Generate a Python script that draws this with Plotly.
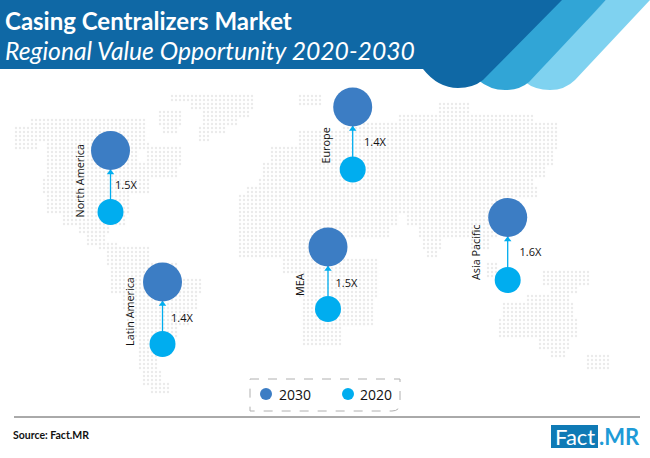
import plotly.graph_objects as go

# regions (position on the 650x458 map)
regions = ['North America', 'Latin America', 'Europe', 'MEA', 'Asia Pacific']
multipliers = ['1.5X', '1.4X', '1.4X', '1.5X', '1.6X']
region_x = [110.5, 162.5, 352.7, 328, 507.7]
y_2030 = [150.5, 282, 107, 247, 217.5]
y_2020 = [212, 344, 169.5, 309, 280]
label_x = [78.5, 129, 324.5, 299, 475]
label_y = [181, 312, 146, 285, 253]
mult_x = [126, 182, 375, 346.5, 530.5]
mult_y = [186, 319, 143, 284, 253]

# dotted world map: land as (y top, y bottom, x left, x right)
land = [
    # greenland and arctic
    (98, 104, 173, 255), (104, 112, 195, 255), (112, 120, 205, 250), (120, 128, 205, 240),
    (128, 136, 200, 225), (136, 142, 200, 210), (115, 125, 160, 182), (125, 136, 165, 180),
    # north america
    (120, 128, 33, 145), (128, 144, 17, 145), (144, 152, 17, 40), (144, 152, 50, 150),
    (150, 165, 50, 140), (148, 165, 150, 182), (165, 180, 50, 180), (180, 195, 47, 150),
    (195, 215, 50, 130), (215, 225, 65, 125), (225, 235, 80, 112), (235, 246, 90, 108),
    (246, 252, 100, 118),
    # south america
    (250, 265, 110, 150), (265, 280, 113, 178), (280, 295, 113, 202), (295, 310, 125, 200),
    (310, 325, 130, 192), (325, 340, 135, 180), (340, 355, 140, 168), (355, 372, 143, 160),
    (372, 385, 144, 162), (385, 396, 152, 170),
    # europe and north asia
    (98, 106, 302, 322), (106, 116, 440, 470), (116, 124, 400, 535), (124, 135, 345, 558),
    (135, 150, 300, 558), (150, 165, 275, 555), (165, 180, 265, 545), (180, 190, 260, 535),
    (190, 197, 250, 540),
    # middle east, south asia, china
    (197, 213, 345, 512), (213, 225, 345, 400), (213, 225, 410, 490), (225, 238, 350, 390),
    (225, 238, 420, 500), (238, 250, 425, 442), (238, 250, 475, 492), (250, 258, 430, 438),
    # africa
    (197, 260, 243, 345), (260, 275, 285, 378), (275, 300, 300, 378), (300, 325, 305, 368),
    (325, 345, 305, 342), (300, 326, 365, 376),
    # indonesia, australia, new zealand
    (265, 278, 490, 500), (272, 285, 545, 590), (285, 296, 555, 578), (296, 306, 530, 570),
    (306, 320, 505, 575), (320, 340, 502, 577), (340, 352, 540, 572), (352, 358, 555, 565),
    (358, 372, 590, 610),
]

DOT_STEP = 4
dots_x = []
dots_y = []
for y0, y1, x0, x1 in land:
    for yy in range(y0 - y0 % DOT_STEP, y1, DOT_STEP):
        for xx in range(x0 - x0 % DOT_STEP, x1, DOT_STEP):
            dots_x.append(xx)
            dots_y.append(yy)

BLUE_2030 = '#3c7dc4'
BLUE_2020 = '#00adef'

fig = go.Figure()

fig.add_trace(go.Scatter(x=dots_x, y=dots_y, mode='markers',
                         marker=dict(size=2.4, color='#ebebeb')))

# arrows from 2020 up to 2030
for i in range(len(regions)):
    fig.add_trace(go.Scatter(x=[region_x[i], region_x[i]], y=[y_2020[i], y_2030[i]], mode='lines',
                             line=dict(color=BLUE_2020, width=1.3)))
fig.add_trace(go.Scatter(x=region_x, y=[v + 22 for v in y_2030], mode='markers',
                         marker=dict(symbol='triangle-up', size=6.5, color=BLUE_2020)))

fig.add_trace(go.Scatter(x=region_x, y=y_2030, mode='markers', name='2030',
                         marker=dict(size=39, color=BLUE_2030)))
fig.add_trace(go.Scatter(x=region_x, y=y_2020, mode='markers', name='2020',
                         marker=dict(size=26, color=BLUE_2020)))

fig.add_trace(go.Scatter(x=mult_x, y=mult_y, mode='text', text=multipliers,
                         textfont=dict(family='Open Sans', size=11, color='#111111')))

# legend keys
fig.add_trace(go.Scatter(x=[266, 348], y=[394, 394], mode='markers',
                         marker=dict(size=12, color=[BLUE_2030, BLUE_2020])))

header_shapes = [
    ('#7fd2f0', 'M606,0 L650,0 L575,80 Q565,90 550,90 Q535,90 525,82 Z'),
    ('#31a5d6', 'M560,0 L606,0 L529,82 Q520,90 505,90 Q490,90 478,80 Z'),
    ('#0f68a5', 'M0,0 L562,0 L483,80 Q473,88 458,88 Q438,88 423,69 L0,69 Z'),
]
for colour, path in header_shapes:
    fig.add_shape(type='path', path=path, fillcolor=colour, line_width=0, layer='above')

# legend box, footer rule, logo
fig.add_shape(type='path', path='M250,379 L400,379 L400,403 Q400,411 392,411 L250,411 Z',
              line=dict(color='#b0b0b0', width=1, dash='dash'))
fig.add_shape(type='line', x0=14, x1=640, y0=417, y1=417, line=dict(color='#555555', width=1))
fig.add_shape(type='rect', x0=551, x1=598, y0=425, y1=448, fillcolor='#0f7ab5', line_width=0)


def put_text(x, y, text, size, color='#111111', family='Open Sans', anchor='left', angle=0):
    fig.add_annotation(x=x, y=y, text=text, showarrow=False, xanchor=anchor, yanchor='middle',
                       textangle=angle, font=dict(family=family, size=size, color=color))


put_text(3, 20, '<b>Casing Centralizers Market</b>', 24, color='white', family='Lato')
put_text(3, 50, '<i>Regional Value Opportunity 2020-2030</i>', 24.7, color='white', family='Lato')

for i, name in enumerate(regions):
    put_text(label_x[i], label_y[i], name, 10.8, anchor='center', angle=-90)

put_text(277, 394, '2030', 14)
put_text(358, 394, '2020', 14)
put_text(11, 435, '<b>Source: Fact.MR</b>', 10.5, family='Lato')
put_text(574.5, 436, 'Fact', 22, color='white', anchor='center', family='Lato')
put_text(619, 436, '<b>.MR</b>', 22, color='#1e9bd7', anchor='center', family='Lato')

fig.update_layout(
    width=650, height=458,
    margin=dict(l=0, r=0, t=0, b=0),
    paper_bgcolor='white', plot_bgcolor='white',
    showlegend=False,
    xaxis=dict(range=[0, 650], visible=False),
    yaxis=dict(range=[458, 0], visible=False),
)

fig.write_html("out.html", config={'displayModeBar': False},
               post_script="document.body.style.margin='0';")
